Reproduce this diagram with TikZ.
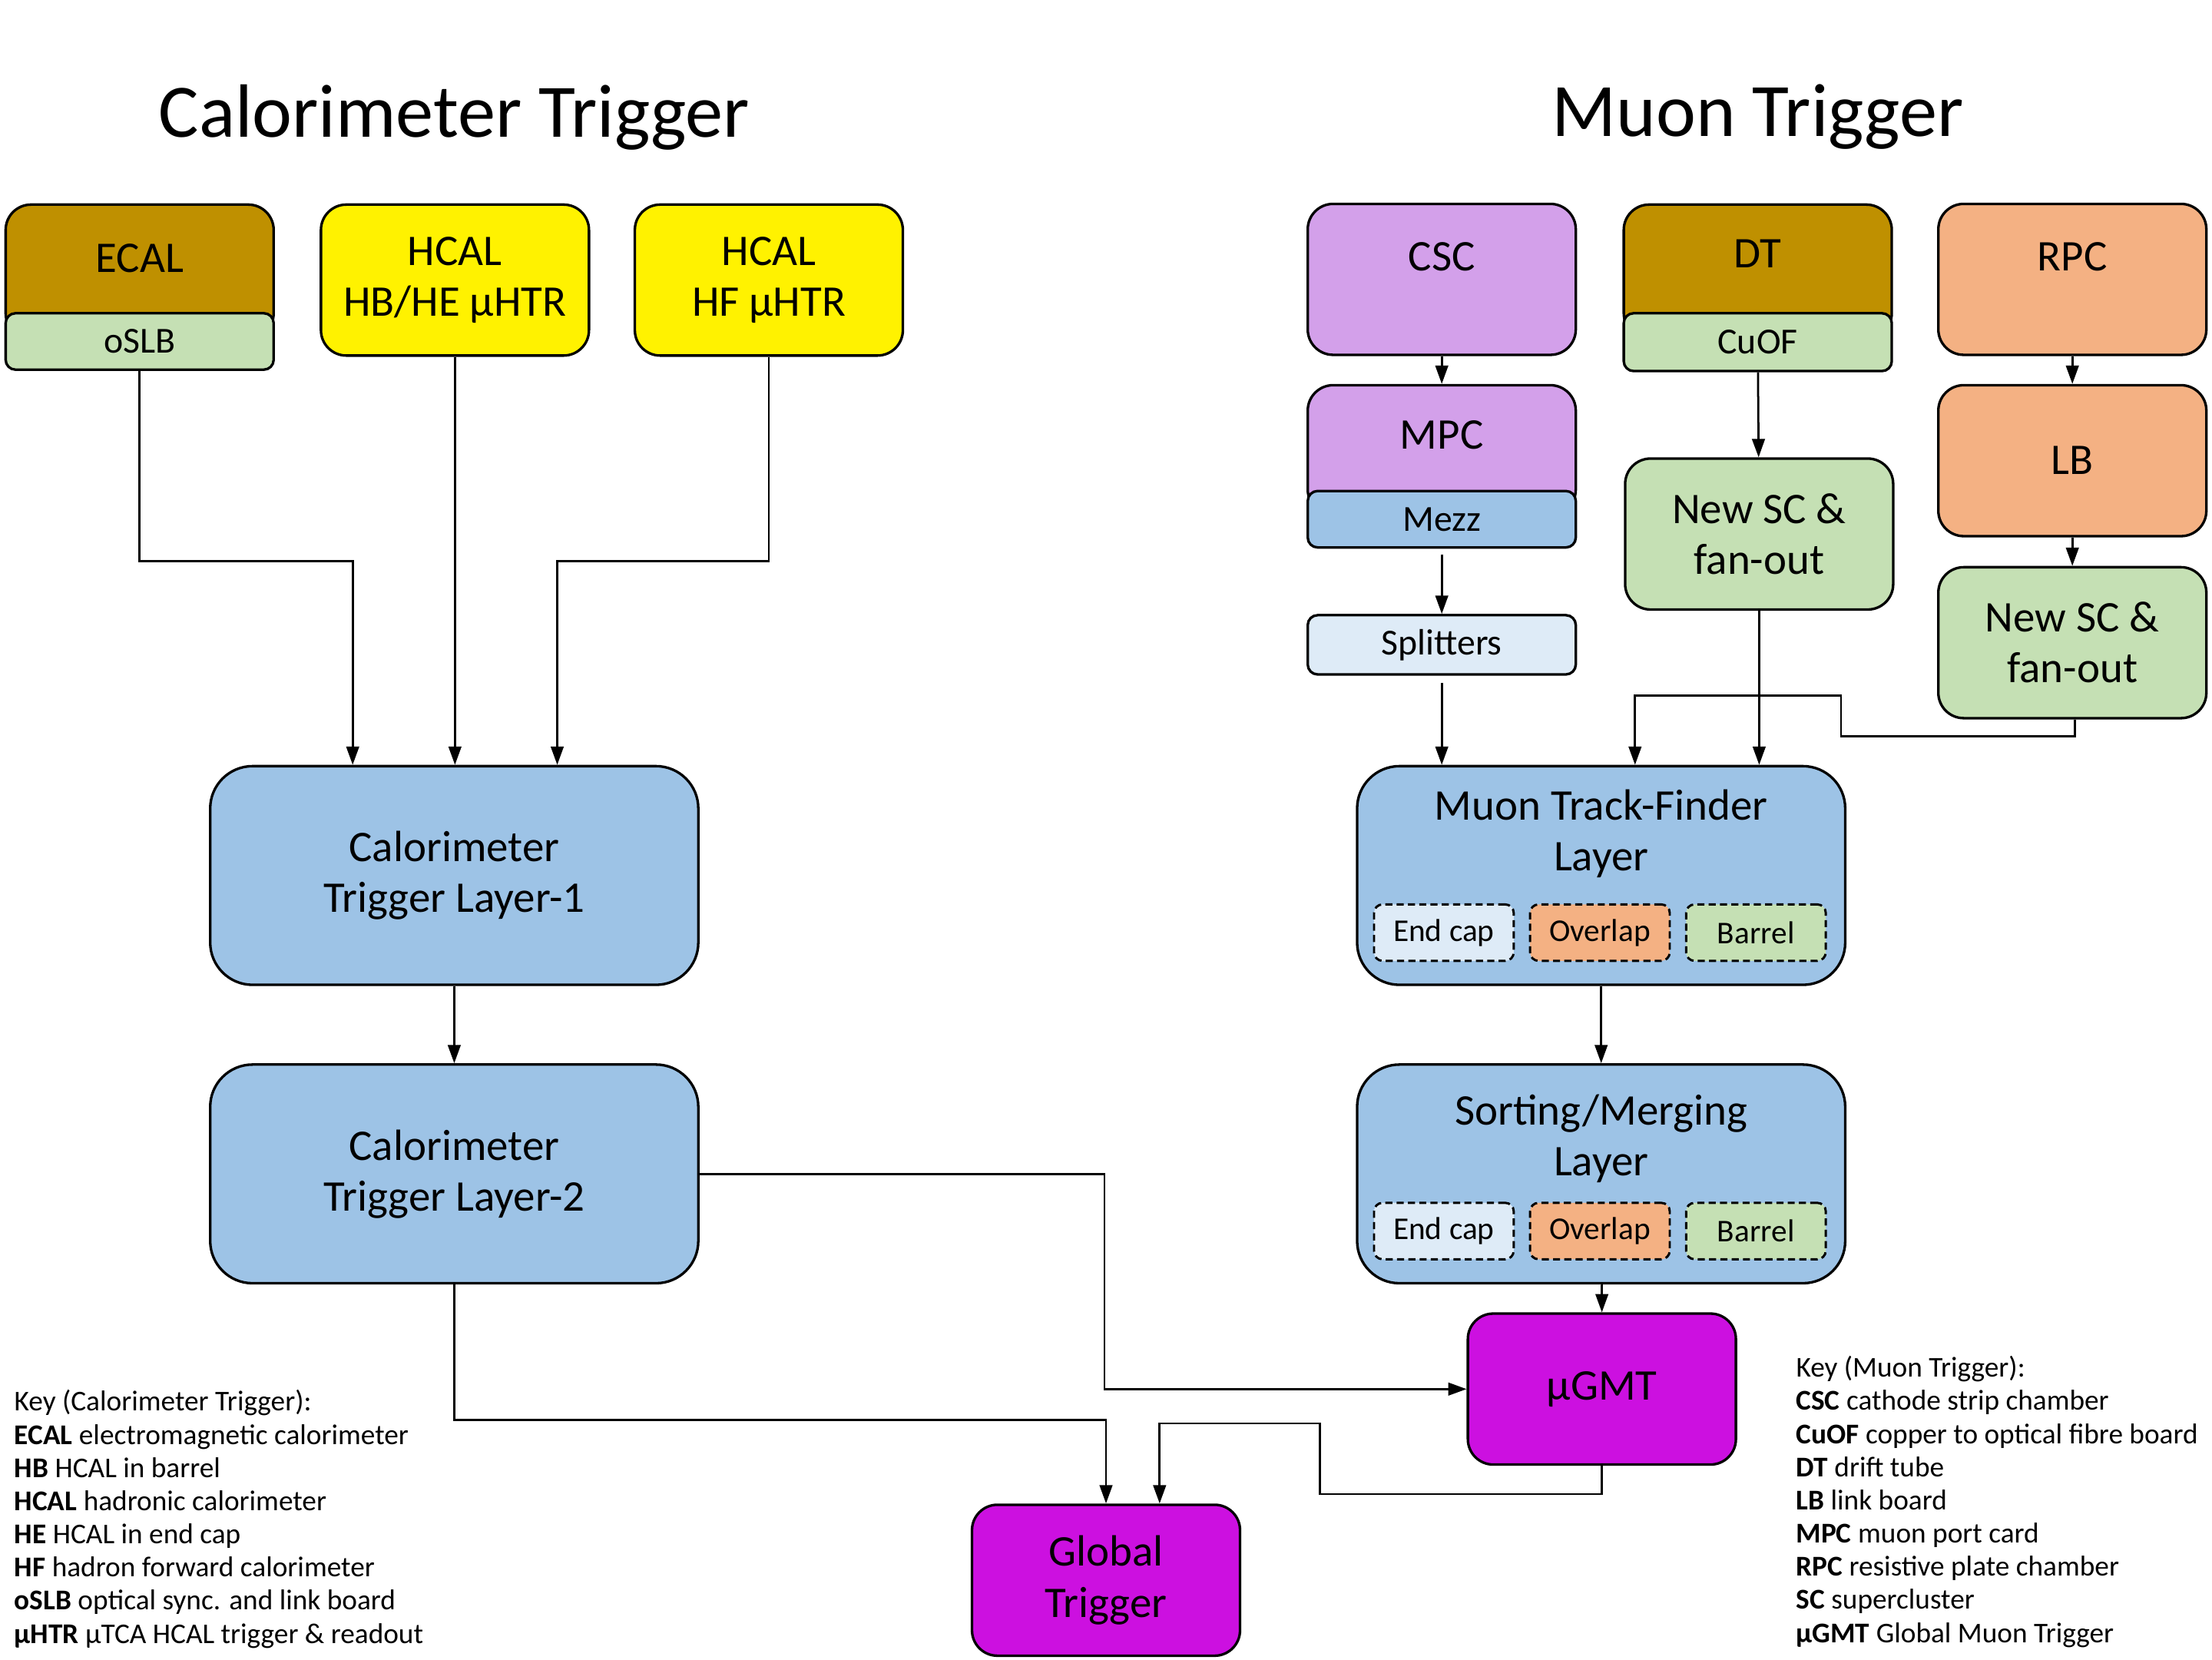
\documentclass[tikz,border=0pt]{standalone}
\usepackage{fontspec}
\setmainfont{Carlito}
\usetikzlibrary{positioning,arrows.meta}

\definecolor{gold}{RGB}{191,144,0}
\definecolor{lgreen}{RGB}{197,224,180}
\definecolor{purp}{RGB}{211,160,234}
\definecolor{midblue}{RGB}{157,195,230}
\definecolor{paleblue}{RGB}{222,235,247}
\definecolor{salmon}{RGB}{244,177,131}
\definecolor{magent}{RGB}{204,16,224}

\begin{document}
\begin{tikzpicture}[x=1pt,y=-1pt]
    \tikzset{boxfont/.style={font=\fontsize{31}{36}\selectfont},
             box/.style={draw, line width=1.8pt, rounded corners=18pt,
                         minimum width=190pt, minimum height=107pt,
                         inner sep=0pt, align=center, boxfont},
             subbox/.style={draw, line width=1.8pt, rounded corners=7pt,
                            minimum width=190pt, minimum height=40pt,
                            inner sep=0pt, font=\fontsize{26}{30}\selectfont},
             layer/.style={box, rounded corners=30pt, minimum width=346pt,
                           minimum height=155pt, fill=midblue},
             part/.style={draw, line width=1.6pt, dash pattern=on 5pt off 3pt,
                          rounded corners=6pt, minimum width=99pt,
                          minimum height=40pt, inner sep=0pt,
                          font=\fontsize{22.5}{26}\selectfont},
             key/.style={align=left, inner sep=0pt,
                         font=\fontsize{20.3}{23.5}\selectfont},
             arr/.style={-{Triangle[length=13pt,width=9pt]}, line width=1.5pt}}

    \fill[white] (0,0) rectangle (1568,1176);
    \useasboundingbox (0,0) rectangle (1568,1176);

    \node[font=\fontsize{53.5}{60}\selectfont] (caltitle) at (322,83) {Calorimeter Trigger};
    \node[font=\fontsize{53.5}{60}\selectfont] (muontitle) at (1246,83) {Muon Trigger};

    % calorimeter side
    \node[box, fill=gold, minimum height=95pt,
          label={[boxfont,yshift=9.5pt]center:ECAL}] (ecal) at (99,192.5) {};
    \node[subbox, fill=lgreen] (oslb) at (99,242) {oSLB};
    \node[box, fill=yellow] (hcalb) at (322.5,198.5) {HCAL\\HB/HE µHTR};
    \node[box, fill=yellow] (hcalf) at (545,198.5) {HCAL\\HF µHTR};

    \node[layer] (layer1) at (322,620.5) {Calorimeter\\Trigger Layer-1};
    \node[layer] (layer2) at (322,832) {Calorimeter\\Trigger Layer-2};

    \node[box, fill=magent] (gt) at (784,1120) {Global\\Trigger};
    \node[box, fill=magent] (ugmt) at (1135.5,984.5) {µGMT};

    % muon side
    \node[box, fill=purp,
          label={[boxfont,yshift=16pt]center:CSC}] (csc) at (1022,198) {};
    \node[box, fill=purp, minimum height=92pt,
          label={[boxfont,yshift=11pt]center:MPC}] (mpc) at (1022,319) {};
    \node[subbox, fill=midblue] (mezz) at (1022,368) {Mezz};
    \node[subbox, fill=paleblue, minimum height=42pt] (split) at (1022,457) {Splitters};

    \node[box, fill=gold, minimum height=95pt,
          label={[boxfont,yshift=12.5pt]center:DT}] (dt) at (1246,192.5) {};
    \node[subbox, fill=lgreen, minimum height=41pt] (cuof) at (1246,242.5) {CuOF};
    \node[box, fill=lgreen] (newscd) at (1247,378.5) {New SC \&\\fan-out};

    \node[box, fill=salmon,
          label={[boxfont,yshift=16pt]center:RPC}] (rpc) at (1469,198) {};
    \node[box, fill=salmon] (lb) at (1469,326.5) {LB};
    \node[box, fill=lgreen] (newscr) at (1469,455.5) {New SC \&\\fan-out};

    \node[layer, label={[boxfont,align=center,yshift=29.5pt]center:Muon Track-Finder\\Layer}] (mtf) at (1135,620.5) {};
    \node[part, fill=paleblue] (endcap1) at (1023.5,661) {End cap};
    \node[part, fill=salmon, right=10pt of endcap1] (overlap1) {Overlap};
    \node[part, fill=lgreen, right=10pt of overlap1] (barrel1) {Barrel};

    \node[layer, label={[boxfont,align=center,yshift=25pt]center:Sorting/Merging\\Layer}] (sm) at (1135,832) {};
    \node[part, fill=paleblue] (endcap2) at (1023.5,872.5) {End cap};
    \node[part, fill=salmon, right=10pt of endcap2] (overlap2) {Overlap};
    \node[part, fill=lgreen, right=10pt of overlap2] (barrel2) {Barrel};

    % keys
    \node[key, anchor=north west] (calkey) at (10,985) {Key (Calorimeter Trigger):\\
        \textbf{ECAL} electromagnetic calorimeter\\
        \textbf{HB} HCAL in barrel\\
        \textbf{HCAL} hadronic calorimeter\\
        \textbf{HE} HCAL in end cap\\
        \textbf{HF} hadron forward calorimeter\\
        \textbf{oSLB} optical sync. and link board\\
        \textbf{µHTR} µTCA HCAL trigger \& readout};
    \node[key, anchor=north west] (muonkey) at (1273,961) {Key (Muon Trigger):\\
        \textbf{CSC} cathode strip chamber\\
        \textbf{CuOF} copper to optical fibre board\\
        \textbf{DT} drift tube\\
        \textbf{LB} link board\\
        \textbf{MPC} muon port card\\
        \textbf{RPC} resistive plate chamber\\
        \textbf{SC} supercluster\\
        \textbf{µGMT} Global Muon Trigger};

    % connections
    \draw[arr] (oslb.south) -- ++(0,135) -| ([xshift=-72pt]layer1.north);
    \draw[arr] (hcalb.south) -- (hcalb.south |- layer1.north);
    \draw[arr] (hcalf.south) -- ++(0,145) -| ([xshift=73pt]layer1.north);
    \draw[arr] (layer1) -- (layer2);
    \draw[arr] (layer2.east) -- ++(287,0) |- (ugmt.west);
    \draw[arr] (layer2.south) -- ++(0,96) -| (gt.north);
    \draw[arr] (ugmt.south) -- ++(0,20) -| ++(-200,-50) -| ([xshift=38pt]gt.north);

    \draw[arr] (csc) -- (mpc);
    \draw[arr, shorten <=4pt] (mezz) -- (split);
    \draw[arr, shorten <=5pt] (split.south) -- (split.south |- mtf.north);
    \draw[arr] (cuof) -- (newscd);
    \draw[arr] (newscd.south) -- (newscd.south |- mtf.north);
    \draw[arr] (rpc) -- (lb);
    \draw[arr] (lb) -- (newscr);
    \draw[arr] ([xshift=2pt]newscr.south) -- ++(0,12) -| ++(-166,-29) -| ([xshift=24pt]mtf.north);
    \draw[arr] (mtf) -- (sm);
    \draw[arr] (sm.south) -- (sm.south -| ugmt.north) -- (ugmt.north);
\end{tikzpicture}
\end{document}
